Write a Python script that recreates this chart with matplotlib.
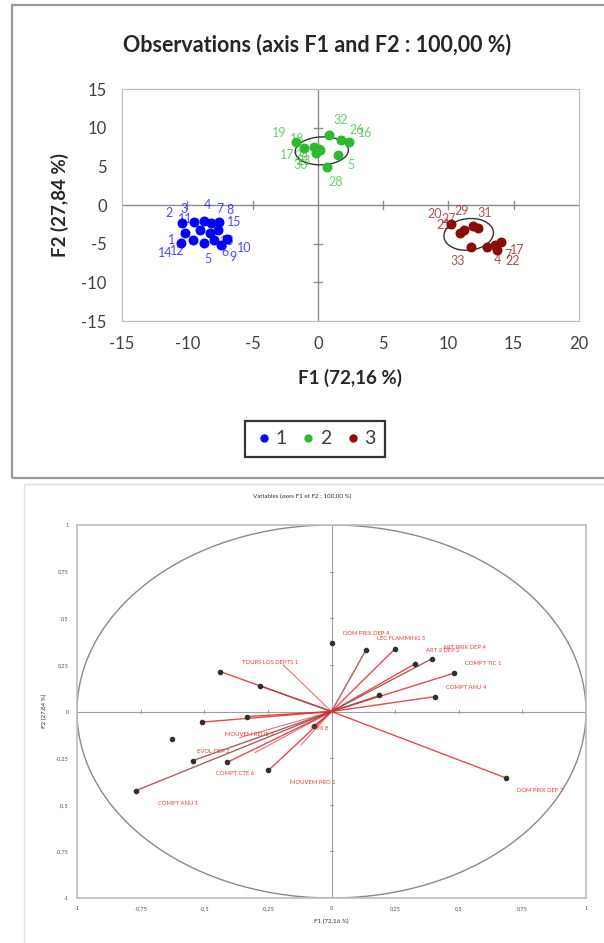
import numpy as np
import matplotlib.pyplot as plt
from matplotlib.patches import Ellipse, Rectangle
from matplotlib.lines import Line2D

plt.rcParams['font.family'] = ['Lato', 'DejaVu Sans']
plt.rcParams['axes.unicode_minus'] = False

# observations on F1/F2, one list per class
obs1_x = [-10.42, -9.45, -8.70, -8.18, -7.59, -10.18, -9.00, -8.27, -7.67, -6.94,
          -10.48, -9.60, -8.70, -7.97, -7.38]
obs1_y = [-2.29, -2.16, -2.08, -2.29, -2.16, -3.66, -3.23, -3.66, -3.23, -4.43,
          -4.95, -4.52, -4.95, -4.52, -5.17]
obs1_id = ['2', '3', '4', '7', '8', '1', '11', '13', '15', '10', '14', '12', '5', '6', '9']

obs2_x = [-1.69, -1.04, -0.30, 0.13, 0.05, 0.87, 1.76, 2.35, 1.55, 0.67, -0.16]
obs2_y = [8.19, 7.33, 7.54, 7.11, 7.30, 9.05, 8.40, 8.19, 6.47, 4.95, 6.68]
obs2_id = ['19', '17', '18', '23', '24', '32', '26', '16', '5', '28', '30']

obs3_x = [10.17, 10.91, 11.21, 11.88, 12.24, 11.70, 12.97, 13.57, 14.01, 13.71]
obs3_y = [-2.46, -3.66, -3.23, -2.72, -3.02, -5.39, -5.39, -5.17, -4.74, -5.82]
obs3_id = ['20', '21', '27', '29', '31', '33', '4', '7', '17', '22']

# class ellipses: centre x, centre y, width, height, angle
ell2 = [0.30, 7.00, 4.1, 3.6, 12]
ell3 = [11.55, -3.80, 3.7, 4.2, -25]

# variables (correlation circle)
var_x = [0.135, 0.248, 0.327, 0.396, 0.480, 0.408, 0.188, 0.687,
         -0.437, -0.280, -0.331, -0.510, -0.546, -0.410, -0.248, -0.770, -0.070]
var_y = [0.329, 0.334, 0.255, 0.284, 0.205, 0.080, 0.086, -0.357,
         0.214, 0.1375, -0.027, -0.057, -0.264, -0.273, -0.316, -0.425, -0.080]
sup_x = [0.0, -0.626]
sup_y = [0.366, -0.148]
ray_x = [-0.19, -0.36, -0.30, -0.12]
ray_y = [0.25, -0.14, -0.22, -0.18]

var_names = ['DOM PRIX DEP 4', 'LEC FLAMMING 5', 'ART 2 DEP 2', 'ART PRIX DEP 4',
             'COMPT TIC 1', 'COMPT ANU 4', 'TOURS LOS DEPTS 1', 'MOUVEM RELIE 3',
             'PRIX 8', 'EVOL DEP 2', 'COMPT CTE 6', 'MOUVEM PRO 1', 'COMPT ANU 1',
             'DOM PRIX DEP 7']
name_pos = [(0.045, 0.42), (0.18, 0.39), (0.37, 0.325), (0.44, 0.345),
            (0.525, 0.255), (0.45, 0.13), (-0.35, 0.265), (-0.42, -0.125),
            (-0.08, -0.09), (-0.53, -0.215), (-0.455, -0.335), (-0.165, -0.38),
            (-0.68, -0.495), (0.728, -0.425)]

fig = plt.figure(figsize=(6.04, 9.43), dpi=100)

# panel borders
fig.patches.append(Rectangle((12 / 604, 1 - 478 / 943), 620 / 604, 473 / 943,
                             transform=fig.transFigure, fill=False,
                             edgecolor='#9a9a9a', lw=1.6))
fig.patches.append(Rectangle((24 / 604, -0.01), 600 / 604, 1 - 484 / 943 + 0.01,
                             transform=fig.transFigure, fill=False,
                             edgecolor='#e0e0e0', lw=1.0))

# ---------- observations ----------
ax = fig.add_axes([122 / 604, 1 - 321 / 943, 457 / 604, 232 / 943])
ax.set_xlim(-15, 20)
ax.set_ylim(-15, 15)
ax.set_xticks(np.arange(-15, 21, 5))
ax.set_yticks(np.arange(-15, 16, 5))
ax.tick_params(length=0, labelsize=12, labelcolor='#404040', pad=11)
for s in ax.spines.values():
    s.set_color('#bdbdbd')
ax.axhline(0, color='#8c8c8c', lw=1, zorder=1)
ax.axvline(0, color='#8c8c8c', lw=1, zorder=1)
for t in [-10, -5, 5, 10, 15]:
    ax.plot([t, t], [-0.5, 0.5], color='#8c8c8c', lw=1, zorder=1)
for t in [10, -5, -10]:
    ax.plot([-0.3, 0.3], [t, t], color='#8c8c8c', lw=1, zorder=1)

groups = [(obs1_x, obs1_y, obs1_id, '#0000ff'),
          (obs2_x, obs2_y, obs2_id, '#2dbb2d'),
          (obs3_x, obs3_y, obs3_id, '#8b0a0a')]
for gx, gy, gid, col in groups:
    ax.scatter(gx, gy, s=38, color=col, zorder=3)
    # push each label away from the class centre (in screen units)
    mx, my = np.mean(gx), np.mean(gy)
    for x, y, t in zip(gx, gy, gid):
        dx, dy = (x - mx) * 13.0, (y - my) * 7.7
        n = np.hypot(dx, dy) or 1.0
        ox, oy = 7 * dx / n, 7 * dy / n
        ax.annotate(t, (x, y), xytext=(ox, oy), textcoords='offset points',
                    ha='left' if ox >= 0 else 'right',
                    va='bottom' if oy >= 0 else 'top',
                    fontsize=9, color=col, alpha=0.7, zorder=4)

for e in (ell2, ell3):
    ax.add_patch(Ellipse((e[0], e[1]), e[2], e[3], angle=e[4], fill=False,
                         edgecolor='#333333', lw=1, zorder=2))

fig.text(0.525, 1 - 45 / 943, 'Observations (axis F1 and F2 : 100,00 %)',
         ha='center', va='center', fontsize=15.5, fontweight='bold', color='#262626')
fig.text(350 / 604, 1 - 378 / 943, 'F1 (72,16 %)', ha='center', va='center',
         fontsize=13.5, fontweight='bold', color='#262626')
fig.text(60 / 604, 1 - 205 / 943, 'F2 (27,84 %)', ha='center', va='center',
         rotation=90, fontsize=13.5, fontweight='bold', color='#262626')

handles = [Line2D([], [], ls='none', marker='o', ms=5, color=c, label=l)
           for c, l in [('#0000ff', '1'), ('#2dbb2d', '2'), ('#8b0a0a', '3')]]
leg = fig.legend(handles=handles, loc='center', ncol=3,
                 bbox_to_anchor=(315 / 604, 1 - 439 / 943), fontsize=14,
                 frameon=True, fancybox=False, handletextpad=0.1,
                 columnspacing=0.6, handlelength=1.0, borderpad=0.5)
leg.get_frame().set_edgecolor('black')
leg.get_frame().set_linewidth(1.6)
for t in leg.get_texts():
    t.set_color('#404040')

# ---------- variables ----------
bx = fig.add_axes([77 / 604, 1 - 898 / 943, 509 / 604, 373 / 943])
bx.set_xlim(-1, 1)
bx.set_ylim(-1, 1)
ticks = [-1, -0.75, -0.5, -0.25, 0, 0.25, 0.5, 0.75, 1]
labels = [('%g' % t).replace('.', ',') for t in ticks]
bx.set_xticks(ticks)
bx.set_xticklabels(labels)
bx.set_yticks(ticks)
bx.set_yticklabels(labels)
bx.tick_params(length=0, labelsize=4, labelcolor='#555555', pad=6)
for s in bx.spines.values():
    s.set_color('#bdbdbd')
    s.set_linewidth(1.2)
bx.axhline(0, color='#a0a0a0', lw=0.8, zorder=1)
bx.axvline(0, color='#a0a0a0', lw=0.8, zorder=1)
for t in ticks[1:-1]:
    bx.plot([t, t], [-0.008, 0.008], color='#a0a0a0', lw=0.8)
    bx.plot([-0.004, 0.004], [t, t], color='#a0a0a0', lw=0.8)

th = np.linspace(0, 2 * np.pi, 400)
bx.plot(np.cos(th), np.sin(th), color='#8a8a8a', lw=1)

for x, y in zip(ray_x, ray_y):
    bx.plot([0, x], [0, y], color='#e05050', lw=0.8, alpha=0.8)
for i, (x, y) in enumerate(zip(var_x, var_y)):
    col = '#9a4444' if i % 3 == 0 else '#e8292b'
    bx.plot([0, x], [0, y], color=col, lw=1.0, alpha=0.85, zorder=2)
bx.scatter(var_x, var_y, s=9, color='#303030', zorder=3)
bx.scatter(sup_x, sup_y, s=9, color='#303030', zorder=3)

for name, (x, y) in zip(var_names, name_pos):
    bx.text(x, y, name, fontsize=4.2, color='#f03838', ha='left', va='center')

fig.text(0.5, 1 - 496 / 943, 'Variables (axes F1 et F2 : 100,00 %)',
         ha='center', va='center', fontsize=4.5, color='#333333')
fig.text(331 / 604, 1 - 921 / 943, 'F1 (72,16 %)', ha='center', va='center',
         fontsize=4.5, color='#333333')
fig.text(44 / 604, 1 - 711 / 943, 'F2 (27,84 %)', ha='center', va='center',
         rotation=90, fontsize=4.5, color='#333333')

fig.savefig('out.png', dpi=100)
